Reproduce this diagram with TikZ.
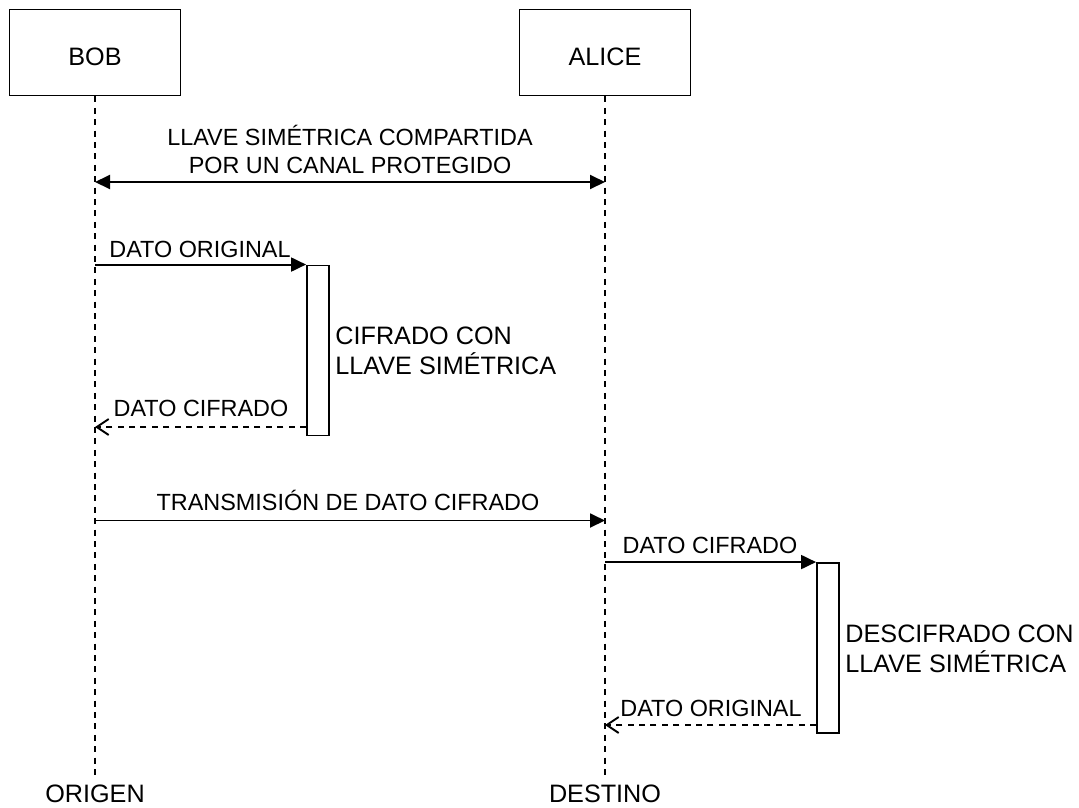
\documentclass[tikz,border=0pt]{standalone}
\usepackage{fontspec}
\setmainfont{Liberation Sans}
\usetikzlibrary{arrows.meta}

\begin{document}
\begin{tikzpicture}[x=1pt,y=-1pt,
  line width=1.9pt,
  actor/.style={draw, rectangle, inner sep=0pt, minimum width=171pt, minimum height=86pt,
    font=\fontsize{25.2pt}{30pt}\selectfont, text height=25pt, text depth=0pt},
  activation/.style={draw, fill=white, rectangle, inner sep=0pt, minimum width=22pt, minimum height=170pt},
  lifeline/.style={dash pattern=on 6pt off 5.4pt},
  msg/.style={-{Triangle[length=15pt,width=14pt]}},
  keymsg/.style={{Triangle[length=15pt,width=14pt]}-{Triangle[length=15pt,width=14pt]}},
  reply/.style={dash pattern=on 6pt off 5.4pt, -{Straight Barb[length=12pt,width=16pt,line width=1.9pt]}},
  msglabel/.style={font=\fontsize{23.4pt}{28pt}\selectfont, inner sep=0pt, anchor=base},
  biglabel/.style={font=\fontsize{25.2pt}{29.5pt}\selectfont, inner sep=0pt, align=left, anchor=north west},
  endlabel/.style={font=\fontsize{25.2pt}{30pt}\selectfont, inner sep=0pt, anchor=base},
]
\useasboundingbox (0,0) rectangle (1079,807);

% participants
\node[actor] (bob) at (95,52.5) {BOB};
\node[actor] (alice) at (605,52.5) {ALICE};

% lifeline ends and their captions
\coordinate (bobend) at (95,776);
\coordinate (aliceend) at (605,776);
\draw[lifeline] (bob.south) -- (bobend);
\draw[lifeline] (alice.south) -- (aliceend);
\node[endlabel] (origen) at (95,802) {ORIGEN};
\node[endlabel] (destino) at (605,802) {DESTINO};

% shared key
\coordinate (keyb) at (95,182);
\coordinate (keya) at (605,182);
\draw[keymsg] (keyb) -- (keya);
\node[msglabel, align=center, anchor=center] (keytext) at (350,149.5)
  {LLAVE SIMÉTRICA COMPARTIDA\\[-0.5pt]POR UN CANAL PROTEGIDO};

% encryption at the sender
\node[activation] (enc) at (318,350.5) {};
\coordinate (m1) at (bob.south |- enc.north west);
\draw[msg] (m1) -- (enc.north west);
\node[msglabel] (m1text) at (200,257.5) {DATO ORIGINAL};
\node[biglabel] (enctext) at (334.5,326) {CIFRADO CON\\LLAVE SIMÉTRICA};
\coordinate (r1s) at (enc.west |- 0,427);
\coordinate (r1e) at (bob.south |- r1s);
\draw[reply] (r1s) -- (r1e);
\node[msglabel] (r1text) at (201,416) {DATO CIFRADO};

% transmission
\coordinate (tb) at (95,520.5);
\coordinate (ta) at (605,520.5);
\draw[msg] (tb) -- (ta);
\node[msglabel] (ttext) at (348,510) {TRANSMISIÓN DE DATO CIFRADO};

% decryption at the receiver
\node[activation] (dec) at (828,648) {};
\coordinate (m2) at (alice.south |- dec.north west);
\draw[msg] (m2) -- (dec.north west);
\node[msglabel] (m2text) at (710,553.5) {DATO CIFRADO};
\node[biglabel] (dectext) at (844.5,624) {DESCIFRADO CON\\LLAVE SIMÉTRICA};
\coordinate (r2s) at (dec.west |- 0,725);
\coordinate (r2e) at (alice.south |- r2s);
\draw[reply] (r2s) -- (r2e);
\node[msglabel] (r2text) at (711,716) {DATO ORIGINAL};
\end{tikzpicture}
\end{document}
